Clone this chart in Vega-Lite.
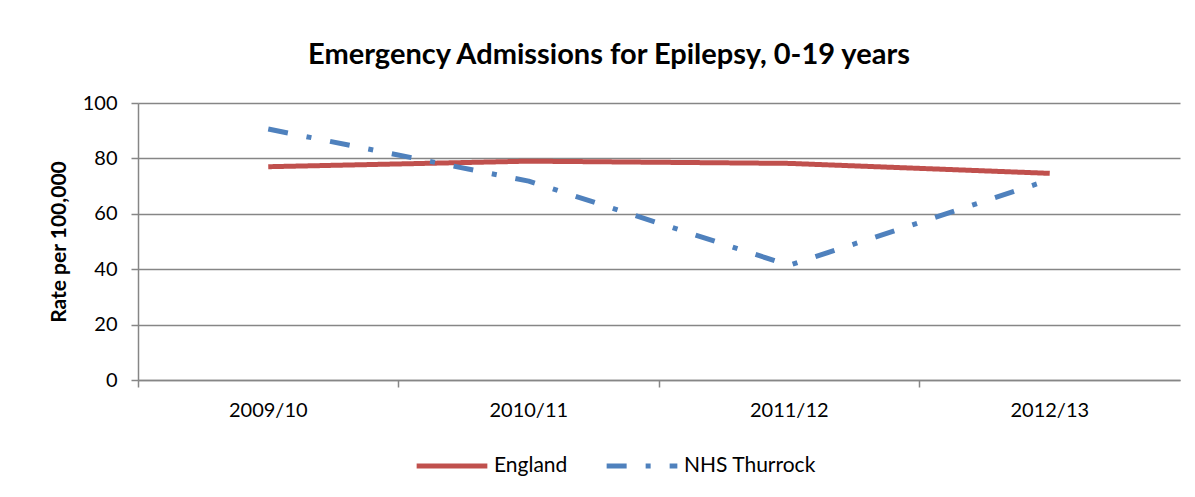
{
  "$schema": "https://vega.github.io/schema/vega-lite/v6.json",
  "width": 1042,
  "height": 277,
  "autosize": {"type": "none"},
  "padding": {"left": 138, "top": 103, "right": 15, "bottom": 117},
  "background": "white",
  "title": {
    "text": "Emergency Admissions for Epilepsy, 0-19 years",
    "font": "Lato",
    "fontSize": 29,
    "fontWeight": "bold",
    "color": "#000000",
    "anchor": "middle",
    "dx": -50,
    "offset": 23
  },
  "data": {
    "values": [
      {"year": "2009/10", "series": "England", "rate": 77.0},
      {"year": "2010/11", "series": "England", "rate": 79.0},
      {"year": "2011/12", "series": "England", "rate": 78.2},
      {"year": "2012/13", "series": "England", "rate": 74.6},
      {"year": "2009/10", "series": "NHS Thurrock", "rate": 90.6},
      {"year": "2010/11", "series": "NHS Thurrock", "rate": 71.8},
      {"year": "2011/12", "series": "NHS Thurrock", "rate": 41.4},
      {"year": "2012/13", "series": "NHS Thurrock", "rate": 72.3}
    ]
  },
  "mark": {"type": "line", "strokeCap": "butt", "strokeJoin": "round", "strokeWidth": 5},
  "encoding": {
    "x": {
      "field": "year",
      "type": "nominal",
      "scale": {"type": "band", "paddingInner": 0, "paddingOuter": 0},
      "axis": {
        "title": null,
        "labelAngle": 0,
        "labelFont": "Lato",
        "labelFontSize": 20,
        "labelColor": "#000000",
        "labelPadding": 13,
        "bandPosition": 0,
        "tickSize": 7,
        "tickColor": "#868686",
        "tickWidth": 1.5,
        "domainColor": "#868686",
        "domainWidth": 1.5,
        "grid": false
      }
    },
    "y": {
      "field": "rate",
      "type": "quantitative",
      "scale": {"domain": [0, 100]},
      "axis": {
        "title": "Rate per 100,000",
        "titleFont": "Lato",
        "titleFontSize": 21,
        "titleFontWeight": "bold",
        "titleColor": "#000000",
        "titlePadding": 13,
        "values": [0, 20, 40, 60, 80, 100],
        "labelFont": "Lato",
        "labelFontSize": 20,
        "labelColor": "#000000",
        "labelPadding": 14,
        "tickSize": 7,
        "tickColor": "#868686",
        "tickWidth": 1.5,
        "domainColor": "#868686",
        "domainWidth": 1.5,
        "grid": true,
        "gridColor": "#868686",
        "gridWidth": 1.5
      }
    },
    "color": {
      "field": "series",
      "type": "nominal",
      "scale": {"domain": ["England", "NHS Thurrock"], "range": ["#C0504D", "#4F81BD"]},
      "legend": {
        "title": null,
        "orient": "none",
        "direction": "horizontal",
        "legendX": 276,
        "legendY": 325,
        "labelFont": "Lato",
        "labelFontSize": 21,
        "labelColor": "#000000",
        "labelOffset": 4,
        "symbolType": "stroke",
        "symbolSize": 5000,
        "symbolStrokeWidth": 5,
        "columnPadding": 28
      }
    },
    "strokeDash": {
      "field": "series",
      "type": "nominal",
      "scale": {"domain": ["England", "NHS Thurrock"], "range": [[1, 0], [20, 19, 5, 19]]},
      "legend": {
        "title": null,
        "orient": "none",
        "direction": "horizontal",
        "legendX": 276,
        "legendY": 325,
        "labelFont": "Lato",
        "labelFontSize": 21,
        "labelColor": "#000000",
        "labelOffset": 4,
        "symbolType": "stroke",
        "symbolSize": 5000,
        "symbolStrokeWidth": 5,
        "columnPadding": 28
      }
    }
  },
  "config": {"view": {"stroke": null}}
}
